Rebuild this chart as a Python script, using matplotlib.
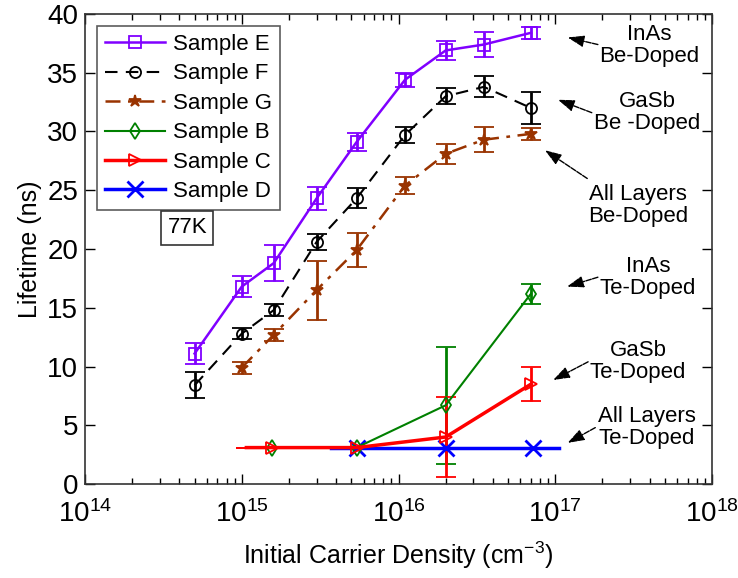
import matplotlib
matplotlib.use("Agg")
from matplotlib import pyplot as plt
from matplotlib.lines import Line2D
from matplotlib.ticker import LogLocator, MultipleLocator, NullFormatter

plt.rcParams['font.family'] = ['Liberation Sans', 'DejaVu Sans']
plt.rcParams['mathtext.fontset'] = 'custom'
plt.rcParams['mathtext.rm'] = 'Liberation Sans'

# Data
x_ef = [5e14, 1e15, 1.6e15, 3e15, 5.4e15, 1.1e16, 2e16, 3.5e16, 7e16]
life_e = [11.1, 16.8, 18.8, 24.3, 29.1, 34.4, 36.9, 37.4, 38.4]
err_e = [0.9, 0.9, 1.5, 1.0, 0.75, 0.6, 0.8, 1.1, 0.5]
life_f = [8.4, 12.8, 14.8, 20.6, 24.3, 29.7, 33.0, 33.8, 32.0]
err_f = [1.1, 0.5, 0.5, 0.65, 0.85, 0.7, 0.7, 0.9, 1.4]

x_g = [1e15, 1.6e15, 3e15, 5.4e15, 1.1e16, 2e16, 3.5e16, 7e16]
life_g = [9.9, 12.7, 16.5, 19.9, 25.4, 28.1, 29.3, 29.8]
err_g = [0.5, 0.5, 2.5, 1.45, 0.7, 0.85, 1.05, 0.5]

x_b = [1.55e15, 5.4e15, 2e16, 7e16]
life_b = [3.1, 3.1, 6.7, 16.2]
err_b = [0, 0, 5.0, 0.85]

# first point of C and first/last of D are line ends without a marker
x_c = [1.07e15, 1.55e15, 5.4e15, 2e16, 7e16]
life_c = [3.1, 3.1, 3.1, 4.0, 8.5]
err_c = [0, 0, 0, 3.4, 1.45]

x_d = [3.7e15, 5.4e15, 2e16, 7.2e16, 1.05e17]
life_d = [3.1, 3.1, 3.1, 3.1, 3.1]

purple = (0.5, 0.0, 1.0)
brown = (0.6, 0.2, 0.0)
green = (0.0, 0.5, 0.0)

# name, color, linestyle, linewidth, marker, marker size, filled
styles = [
    ('Sample E', purple, '-', 1.8, 's', 8, False),
    ('Sample F', 'black', (0, (6, 4)), 1.5, 'o', 8, False),
    ('Sample G', brown, (0, (6, 3, 1.5, 3)), 1.8, '*', 9, True),
    ('Sample B', green, '-', 1.5, 'd', 8, False),
    ('Sample C', 'red', '-', 2.5, '>', 9, False),
    ('Sample D', 'blue', '-', 2.5, 'x', 11, False),
]
series = [(x_ef, life_e, err_e, None), (x_ef, life_f, err_f, None),
          (x_g, life_g, err_g, None), (x_b, life_b, err_b, None),
          (x_c, life_c, err_c, [1, 2, 3, 4]), (x_d, life_d, None, [1, 2, 3])]

fig = plt.figure(figsize=(7.38, 5.78), dpi=100)
ax = fig.add_axes([0.1152, 0.1626, 0.8496, 0.8132])

handles = []
for (name, col, ls, lw, mk, ms, filled), (xs, ys, es, every) in zip(styles, series):
    mfc = col if filled else 'none'
    mew = 2 if mk == 'x' else 1.3
    if es is not None:
        ax.errorbar(xs, ys, yerr=es, color=col, ls=ls, lw=lw, marker=mk, ms=ms,
                    mfc=mfc, mew=mew, markevery=every, capsize=7,
                    elinewidth=2, capthick=2)
    else:
        ax.plot(xs, ys, color=col, ls=ls, lw=lw, marker=mk, ms=ms, mfc=mfc,
                mew=mew, markevery=every)
    handles.append(Line2D([], [], color=col, ls=ls, lw=lw, marker=mk, ms=ms,
                          mfc=mfc, mew=mew, label=name))

ax.set_xscale('log')
ax.set_xlim(1e14, 1e18)
ax.set_ylim(0, 40)
ax.yaxis.set_major_locator(MultipleLocator(5))
ax.xaxis.set_major_locator(LogLocator(base=10, numticks=10))
ax.xaxis.set_minor_locator(LogLocator(base=10, subs=range(2, 10), numticks=20))
ax.xaxis.set_minor_formatter(NullFormatter())
ax.tick_params(axis='both', which='both', direction='in', top=True, right=True,
               labelsize=20, width=1)
ax.tick_params(axis='both', which='major', length=7, pad=5)
ax.tick_params(axis='x', which='major', pad=12)
ax.tick_params(axis='x', which='minor', length=4)
for s in ax.spines.values():
    s.set_color('#333333')
    s.set_linewidth(1.2)

ax.set_xlabel('Initial Carrier Density (cm$^{-3}$)', fontsize=18, labelpad=8)
ax.set_ylabel('Lifetime (ns)', fontsize=18, labelpad=4)

leg = ax.legend(handles=handles, loc='upper left', fontsize=16, frameon=True,
                fancybox=False, edgecolor='#333333', handlelength=2.7,
                borderaxespad=0.55, labelspacing=0.38, handletextpad=0.35,
                borderpad=0.35)
leg.get_frame().set_linewidth(1.2)

ax.text(4.5e14, 21.8, '77K', fontsize=16, ha='center', va='center',
        bbox=dict(boxstyle='square,pad=0.28', fc='white', ec='#333333', lw=1.2))

# annotation labels: (head, tail, text position, text)
notes = [
    ((1.2e17, 38.0), (1.87e17, 37.4), (4.0e17, 37.3), 'InAs\nBe-Doped'),
    ((1.04e17, 32.7), (1.71e17, 31.6), (3.85e17, 31.6), 'GaSb\nBe -Doped'),
    ((8.6e16, 28.4), (1.6e17, 26.0), (3.37e17, 23.7), 'All Layers\nBe-Doped'),
    ((1.19e17, 16.8), (1.87e17, 17.6), (3.9e17, 17.6), 'InAs\nTe-Doped'),
    ((9.7e16, 8.85), (1.62e17, 10.4), (3.37e17, 10.4), 'GaSb\nTe-Doped'),
    ((1.2e17, 3.5), (1.8e17, 4.8), (3.85e17, 4.8), 'All Layers\nTe-Doped'),
]
for head, tail, pos, label in notes:
    ax.annotate('', xy=head, xytext=tail,
                arrowprops=dict(arrowstyle='-|>,head_length=1.0,head_width=0.35',
                                color='black', lw=1, ls=(0, (4, 1)),
                                shrinkA=0, shrinkB=0))
    ax.text(pos[0], pos[1], label, fontsize=16, ha='center', va='center',
            linespacing=1.05)

fig.savefig('out.png', dpi=100)
